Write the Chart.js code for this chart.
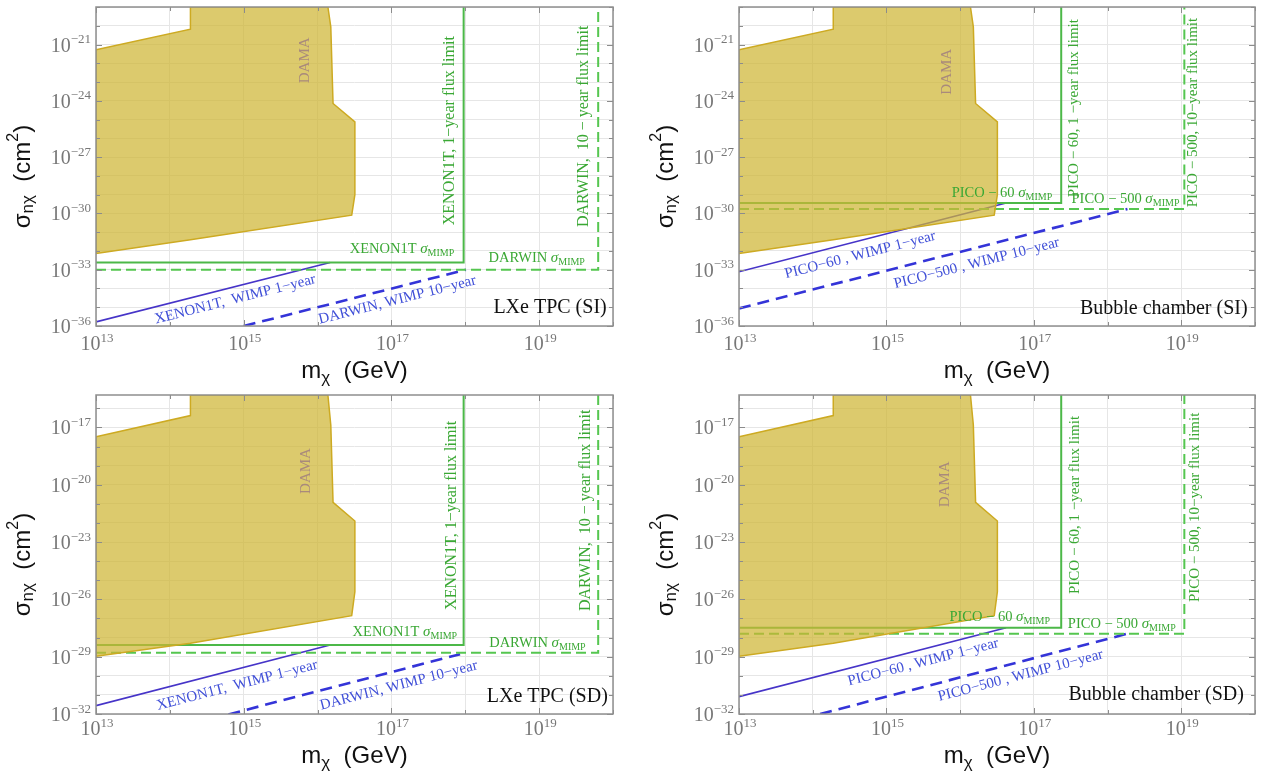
<!DOCTYPE html>
<html>
<head>
<meta charset="utf-8">
<script src="https://cdn.jsdelivr.net/npm/chart.js@4.4.1/dist/chart.umd.min.js"></script>
<style>
html, body { margin: 0; padding: 0; background: #fff; }
#wrap { position: relative; width: 1264px; height: 777px; }
canvas { position: absolute; }
</style>
</head>
<body>
<div id="wrap">
  <canvas id="c1" width="632" height="388" style="left:0;top:0"></canvas>
  <canvas id="c2" width="632" height="388" style="left:632px;top:0"></canvas>
  <canvas id="c3" width="632" height="389" style="left:0;top:388px"></canvas>
  <canvas id="c4" width="632" height="389" style="left:632px;top:388px"></canvas>
</div>
<script>
"use strict"

// ---- data: mass in GeV, cross section in cm^2 ----

// tick labels (powers of ten that get a label)
const xTickPowers = [13, 15, 17, 19]
const ySiTickPowers = [-21, -24, -27, -30, -33, -36]
const ySdTickPowers = [-17, -20, -23, -26, -29, -32]

// DAMA region (closed outline)
const damaMass = [1e13, 1.9e14, 1.9e14, 1.38e16, 1.51e16, 1.62e16, 3.2e16, 3.2e16, 2.9e16, 1.9e14, 1e13, 1e13]
const damaSiSigma = [5.2e-22, 6.6e-21, 1e-19, 1e-19, 8.7e-21, 7.2e-25, 7.6e-26, 1e-29, 8.1e-31, 4.0e-32, 7.4e-33, 5.2e-22]
const damaSdSigma = [3.3e-18, 4.2e-17, 5e-16, 5e-16, 1.35e-17, 1.2e-21, 1.26e-22, 2.5e-26, 1.4e-27, 5.1e-29, 1.05e-29, 3.3e-18]

// LXe TPC, SI
const xenonSiMimpMass = [1e13, 9.5e17, 9.5e17]
const xenonSiMimpSigma = [2.45e-33, 2.45e-33, 1e-19]
const darwinSiMimpMass = [1e13, 6.3e19, 6.3e19]
const darwinSiMimpSigma = [1e-33, 1e-33, 1e-19]
const xenonSiWimpMass = [1e13, 1.48e16]
const xenonSiWimpSigma = [1.66e-36, 2.45e-33]
const darwinSiWimpMass = [1e15, 1.02e18]
const darwinSiWimpSigma = [1e-36, 1e-33]

// Bubble chamber, SI
const pico60SiMimpMass = [1e13, 2.35e17, 2.35e17]
const pico60SiMimpSigma = [3.6e-30, 3.6e-30, 1e-19]
const pico500SiMimpMass = [1e13, 1.1e19, 1.1e19]
const pico500SiMimpSigma = [1.7e-30, 1.7e-30, 1e-19]
const pico60SiWimpMass = [1e13, 4.2e16]
const pico60SiWimpSigma = [7.8e-34, 3.6e-30]
const pico500SiWimpMass = [1e13, 1.86e18]
const pico500SiWimpSigma = [8.7e-36, 1.7e-30]

// LXe TPC, SD
const xenonSdMimpMass = [1e13, 9.5e17, 9.5e17]
const xenonSdMimpSigma = [4.1e-29, 4.1e-29, 5e-16]
const darwinSdMimpMass = [1e13, 6.3e19, 6.3e19]
const darwinSdMimpSigma = [1.6e-29, 1.6e-29, 5e-16]
const xenonSdWimpMass = [1e13, 1.48e16]
const xenonSdWimpSigma = [2.75e-32, 4.1e-29]
const darwinSdWimpMass = [6.2e14, 8.5e17]
const darwinSdWimpSigma = [9.5e-33, 1.35e-29]

// Bubble chamber, SD
const pico60SdMimpMass = [1e13, 2.35e17, 2.35e17]
const pico60SdMimpSigma = [3.3e-28, 3.3e-28, 5e-16]
const pico500SdMimpMass = [1e13, 1.1e19, 1.1e19]
const pico500SdMimpSigma = [1.6e-28, 1.6e-28, 5e-16]
const pico60SdWimpMass = [1e13, 4.2e16]
const pico60SdWimpSigma = [8.1e-32, 3.3e-28]
const pico500SdWimpMass = [1.26e14, 1.86e18]
const pico500SdWimpSigma = [1e-32, 1.6e-28]

// ---- styles ----
const SERIF = '"Liberation Serif", "DejaVu Serif", serif'
const SANS = '"Liberation Sans", Arial, sans-serif'
const GREEN_TXT = '#3aa834'
const BLUE_TXT = '#4150d8'
const DAMA_TXT = '#a98a7c'

const damaStyle = { borderColor: '#cdaa22', borderWidth: 1.5, backgroundColor: 'rgba(206,181,52,0.72)', fill: 'shape' }
const greenSolid = { borderColor: '#4cb848', borderWidth: 2 }
const greenDash = { borderColor: '#55c650', borderWidth: 2, borderDash: [10, 5] }
const blueSolid = { borderColor: '#4634c8', borderWidth: 1.6 }
const blueDash = { borderColor: '#3434d8', borderWidth: 2.6, borderDash: [12, 7] }

function series(xs, ys, style) {
    return Object.assign({
        data: xs.map((v, i) => ({ x: v, y: ys[i] })),
        showLine: true, pointRadius: 0, fill: false, tension: 0
    }, style)
}

// annotation positions in log10(mass), log10(sigma)
const notesSiLxe = [
    { kind: 'dama', at: [15.83, -21.84] },
    { kind: 'flux', text: 'XENON1T, 1\u2212year flux limit', at: [17.79, -30.63] },
    { kind: 'flux', text: 'DARWIN,  10 \u2212 year flux limit', at: [19.61, -30.73] },
    { kind: 'mimp', text: 'XENON1T ', at: [17.85, -32.11] },
    { kind: 'mimp', text: 'DARWIN ', at: [19.62, -32.58] },
    { kind: 'wimp', text: 'XENON1T,  WIMP 1\u2212year', at: [14.885, -34.58], along: 3 },
    { kind: 'wimp', text: 'DARWIN, WIMP 10\u2212year', at: [17.08, -34.62], along: 4 },
    { kind: 'tag', text: 'LXe TPC (SI)', at: [19.915, -35.31] }
]
const notesSiBub = [
    { kind: 'dama', at: [15.82, -22.45] },
    { kind: 'flux', text: 'PICO \u2212 60, 1 \u2212year flux limit', at: [17.55, -29.14], size: 15 },
    { kind: 'flux', text: 'PICO \u2212 500, 10\u2212year flux limit', at: [19.16, -29.67], size: 15 },
    { kind: 'mimp', text: 'PICO \u2212 60 ', at: [17.25, -29.13] },
    { kind: 'mimp', text: 'PICO \u2212 500 ', at: [18.975, -29.45] },
    { kind: 'wimp', text: 'PICO\u221260 , WIMP 1\u2212year', at: [14.645, -32.22], along: 3 },
    { kind: 'wimp', text: 'PICO\u2212500 , WIMP 10\u2212year', at: [16.225, -32.66], along: 4 },
    { kind: 'tag', text: 'Bubble chamber (SI)', at: [19.9, -35.36] }
]
const notesSdLxe = [
    { kind: 'dama', at: [15.85, -19.28] },
    { kind: 'flux', text: 'XENON1T, 1\u2212year flux limit', at: [17.82, -26.55] },
    { kind: 'flux', text: 'DARWIN,  10 \u2212 year flux limit', at: [19.63, -26.61] },
    { kind: 'mimp', text: 'XENON1T ', at: [17.89, -27.93] },
    { kind: 'mimp', text: 'DARWIN ', at: [19.63, -28.48] },
    { kind: 'wimp', text: 'XENON1T,  WIMP 1\u2212year', at: [14.91, -30.5], along: 3 },
    { kind: 'wimp', text: 'DARWIN, WIMP 10\u2212year', at: [17.1, -30.51], along: 4 },
    { kind: 'tag', text: 'LXe TPC (SD)', at: [19.93, -31.36] }
]
const notesSdBub = [
    { kind: 'dama', at: [15.8, -19.98] },
    { kind: 'flux', text: 'PICO \u2212 60, 1 \u2212year flux limit', at: [17.56, -25.72], size: 15 },
    { kind: 'flux', text: 'PICO \u2212 500, 10\u2212year flux limit', at: [19.19, -26.14], size: 15 },
    { kind: 'mimp', text: 'PICO \u2212 60 ', at: [17.22, -27.13] },
    { kind: 'mimp', text: 'PICO \u2212 500 ', at: [18.925, -27.48] },
    { kind: 'wimp', text: 'PICO\u221260 , WIMP 1\u2212year', at: [15.5, -29.29], along: 3 },
    { kind: 'wimp', text: 'PICO\u2212500 , WIMP 10\u2212year', at: [16.82, -30.0], along: 4 },
    { kind: 'tag', text: 'Bubble chamber (SD)', at: [19.85, -31.27] }
]

// draws a row of text pieces (font / vertical offset per piece)
function drawRich(ctx, parts, x, y, align, baseline) {
    let w = 0
    parts.forEach(p => { ctx.font = p.f; p.w = ctx.measureText(p.t).width; w += p.w })
    let cx = align === 'right' ? x - w : align === 'center' ? x - w / 2 : x
    ctx.textAlign = 'left'
    ctx.textBaseline = baseline || 'alphabetic'
    parts.forEach(p => { ctx.font = p.f; ctx.fillText(p.t, cx, y + (p.dy || 0)); cx += p.w })
}

function pow10Label(p) {
    return [{ t: '10', f: '20px ' + SERIF }, { t: String(p).replace('-', '\u2212'), f: '13px ' + SERIF, dy: -8.5 }]
}

const framePlugin = {
    id: 'frame',
    afterDraw(chart, args, o) {
        const { ctx, chartArea: a } = chart
        const xs = chart.scales.x, ys = chart.scales.y
        ctx.save()
        // inward ticks on all sides
        ctx.strokeStyle = '#8c8c8c'
        ctx.lineWidth = 1
        ctx.beginPath()
        xs.ticks.forEach(t => {
            const len = o.xPowers.includes(Math.round(Math.log10(t.value))) ? 6 : 4
            const px = Math.round(xs.getPixelForValue(t.value)) + 0.5
            ctx.moveTo(px, a.bottom); ctx.lineTo(px, a.bottom - len)
            ctx.moveTo(px, a.top); ctx.lineTo(px, a.top + len)
        })
        ys.ticks.forEach(t => {
            const len = o.yPowers.includes(Math.round(Math.log10(t.value))) ? 6 : 4
            const py = Math.round(ys.getPixelForValue(t.value)) + 0.5
            ctx.moveTo(a.left, py); ctx.lineTo(a.left + len, py)
            ctx.moveTo(a.right, py); ctx.lineTo(a.right - len, py)
        })
        ctx.stroke()
        ctx.strokeStyle = '#8f8f8f'
        ctx.lineWidth = 1.5
        ctx.strokeRect(a.left, a.top, a.right - a.left, a.bottom - a.top)

        // tick labels
        ctx.fillStyle = '#777'
        o.xPowers.forEach(p => {
            drawRich(ctx, pow10Label(p), xs.getPixelForValue(Math.pow(10, p)) + 1, a.bottom + o.xLabelGap, 'center')
        })
        o.yPowers.forEach(p => {
            drawRich(ctx, pow10Label(p), a.left - 5, ys.getPixelForValue(Math.pow(10, p)) + 7, 'right')
        })

        // axis titles
        ctx.fillStyle = '#111'
        drawRich(ctx, [
            { t: 'm', f: '24px ' + SANS },
            { t: '\u03c7', f: '17px ' + SANS, dy: 5 },
            { t: '  (GeV)', f: '24px ' + SANS }
        ], (a.left + a.right) / 2, a.bottom + o.xTitleGap, 'center')
        ctx.save()
        ctx.translate(a.left - 73, (a.top + a.bottom) / 2 + 10)
        ctx.rotate(-Math.PI / 2)
        drawRich(ctx, [
            { t: '\u03c3', f: '24px ' + SANS },
            { t: 'n\u03c7', f: '17px ' + SANS, dy: 5 },
            { t: '  (cm', f: '24px ' + SANS },
            { t: '2', f: '16px ' + SANS, dy: -9 },
            { t: ')', f: '24px ' + SANS }
        ], 0, 0, 'center', 'middle')
        ctx.restore()

        // annotations
        o.notes.forEach(n => {
            const px = xs.getPixelForValue(Math.pow(10, n.at[0]))
            const py = ys.getPixelForValue(Math.pow(10, n.at[1]))
            ctx.save()
            ctx.translate(px, py)
            if (n.kind === 'dama') {
                ctx.rotate(-Math.PI / 2)
                ctx.fillStyle = DAMA_TXT
                drawRich(ctx, [{ t: 'DAMA', f: '15px ' + SERIF }], 0, 0, 'center', 'middle')
            } else if (n.kind === 'flux') {
                ctx.rotate(-Math.PI / 2)
                ctx.fillStyle = GREEN_TXT
                drawRich(ctx, [{ t: n.text, f: (n.size || 16) + 'px ' + SERIF }], 0, 0, 'left', 'middle')
            } else if (n.kind === 'mimp') {
                ctx.fillStyle = GREEN_TXT
                drawRich(ctx, [
                    { t: n.text, f: '14.5px ' + SERIF },
                    { t: '\u03c3', f: 'italic 15px ' + SERIF },
                    { t: 'MIMP', f: '10px ' + SERIF, dy: 3 }
                ], 0, 0, 'right')
            } else if (n.kind === 'wimp') {
                const d = chart.data.datasets[n.along].data
                const x1 = xs.getPixelForValue(d[0].x), y1 = ys.getPixelForValue(d[0].y)
                const x2 = xs.getPixelForValue(d[1].x), y2 = ys.getPixelForValue(d[1].y)
                ctx.rotate(Math.atan2(y2 - y1, x2 - x1))
                ctx.fillStyle = BLUE_TXT
                drawRich(ctx, [{ t: n.text, f: '15px ' + SERIF }], 0, 0, 'center', 'middle')
            } else {
                ctx.fillStyle = '#111'
                drawRich(ctx, [{ t: n.text, f: '20px ' + SERIF }], 0, 0, 'right')
            }
            ctx.restore()
        })
        ctx.restore()
    }
}

function decadeTicks(scale) {
    const t = []
    const lo = Math.ceil(Math.log10(scale.min) - 1e-9)
    const hi = Math.floor(Math.log10(scale.max) + 1e-9)
    for (let p = lo; p <= hi; p++) t.push({ value: Math.pow(10, p) })
    scale.ticks = t
}

function makePanel(id, p) {
    new Chart(document.getElementById(id), {
        type: 'scatter',
        data: { datasets: p.datasets },
        options: {
            responsive: false,
            animation: false,
            events: [],
            layout: { padding: { top: 7, right: p.right, left: 0, bottom: 0 } },
            scales: {
                x: {
                    type: 'logarithmic', min: 1e13, max: 1e20,
                    ticks: { display: false },
                    border: { display: false },
                    grid: { color: '#e6e6e6', drawTicks: false },
                    afterBuildTicks: decadeTicks,
                    afterFit: s => { s.height = p.xHeight }
                },
                y: {
                    type: 'logarithmic', min: p.yMin, max: p.yMax,
                    ticks: { display: false },
                    border: { display: false },
                    grid: { color: '#e6e6e6', drawTicks: false },
                    afterBuildTicks: decadeTicks,
                    afterFit: s => { s.width = p.yWidth }
                }
            },
            plugins: {
                legend: { display: false },
                tooltip: { enabled: false },
                frame: {
                    xPowers: xTickPowers, yPowers: p.yPowers, notes: p.notes,
                    xLabelGap: p.xLabelGap, xTitleGap: p.xTitleGap
                }
            }
        },
        plugins: [framePlugin]
    })
}

makePanel('c1', {
    yMin: 1e-36, yMax: 1e-19, yPowers: ySiTickPowers, notes: notesSiLxe,
    yWidth: 96, right: 19, xHeight: 62, xLabelGap: 24, xTitleGap: 52,
    datasets: [
        series(damaMass, damaSiSigma, damaStyle),
        series(xenonSiMimpMass, xenonSiMimpSigma, greenSolid),
        series(darwinSiMimpMass, darwinSiMimpSigma, greenDash),
        series(xenonSiWimpMass, xenonSiWimpSigma, blueSolid),
        series(darwinSiWimpMass, darwinSiWimpSigma, blueDash)
    ]
})
makePanel('c2', {
    yMin: 1e-36, yMax: 1e-19, yPowers: ySiTickPowers, notes: notesSiBub,
    yWidth: 107, right: 9, xHeight: 62, xLabelGap: 24, xTitleGap: 52,
    datasets: [
        series(damaMass, damaSiSigma, damaStyle),
        series(pico60SiMimpMass, pico60SiMimpSigma, greenSolid),
        series(pico500SiMimpMass, pico500SiMimpSigma, greenDash),
        series(pico60SiWimpMass, pico60SiWimpSigma, blueSolid),
        series(pico500SiWimpMass, pico500SiWimpSigma, blueDash)
    ]
})
makePanel('c3', {
    yMin: 1e-32, yMax: 5e-16, yPowers: ySdTickPowers, notes: notesSdLxe,
    yWidth: 96, right: 19, xHeight: 63, xLabelGap: 21, xTitleGap: 49,
    datasets: [
        series(damaMass, damaSdSigma, damaStyle),
        series(xenonSdMimpMass, xenonSdMimpSigma, greenSolid),
        series(darwinSdMimpMass, darwinSdMimpSigma, greenDash),
        series(xenonSdWimpMass, xenonSdWimpSigma, blueSolid),
        series(darwinSdWimpMass, darwinSdWimpSigma, blueDash)
    ]
})
makePanel('c4', {
    yMin: 1e-32, yMax: 5e-16, yPowers: ySdTickPowers, notes: notesSdBub,
    yWidth: 107, right: 9, xHeight: 63, xLabelGap: 21, xTitleGap: 49,
    datasets: [
        series(damaMass, damaSdSigma, damaStyle),
        series(pico60SdMimpMass, pico60SdMimpSigma, greenSolid),
        series(pico500SdMimpMass, pico500SdMimpSigma, greenDash),
        series(pico60SdWimpMass, pico60SdWimpSigma, blueSolid),
        series(pico500SdWimpMass, pico500SdWimpSigma, blueDash)
    ]
})
</script>
</body>
</html>
